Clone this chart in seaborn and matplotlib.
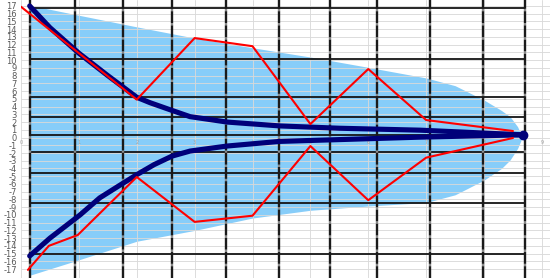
import numpy as np
import pandas as pd
import seaborn as sns
import matplotlib.pyplot as plt

# envelope (light blue area)
env_x = [0.15, 1, 2, 3, 4, 5, 6, 7, 7.5, 8, 8.3, 8.45, 8.58, 8.66]
env_top = [17.1, 15.8, 14.3, 12.85, 11.6, 10.4, 9.07, 7.7, 6.7, 4.85, 3.5, 2.7, 1.4, 0]
env_bottom = [-17.8, -15.8, -13.4, -12.0, -10.4, -9.4, -8.85, -8.4, -7.4, -5.5, -4.0, -2.9, -1.4, 0]

# navy curves
navy_up_x = [0.15, 0.5, 1, 1.5, 2, 2.23, 2.61, 2.92, 3.56, 4.47, 5.5, 6.9, 8.67]
navy_up_y = [17, 14.2, 10.9, 8.0, 5.2, 4.5, 3.5, 2.7, 2.0, 1.5, 1.2, 0.95, 0.35]
navy_lo_x = [0.15, 0.5, 1.02, 1.36, 1.7, 2, 2.3, 2.61, 2.92, 3.56, 4.47, 6.9, 8.67]
navy_lo_y = [-15.3, -13.0, -10.0, -7.8, -6.2, -4.8, -3.5, -2.4, -1.75, -1.1, -0.5, 0.05, 0.35]

# red zigzags
red_up_x = [0, 2, 3, 4, 5, 6, 7, 8.5]
red_up_y = [16.9, 4.9, 12.85, 11.8, 1.74, 8.85, 2.26, 0.84]
red_lo_x = [0.12, 0.48, 0.98, 2, 3, 4, 5, 6, 7, 8.5]
red_lo_y = [-17.1, -14.0, -12.6, -5.1, -10.9, -10.1, -1.1, -8.1, -2.6, -0.06]

# worksheet cell borders behind the chart
sheet_cols = [0.155, 0.93, 1.76, 2.61, 3.54, 4.46, 5.34, 6.15, 7.06, 7.98, 8.705]
sheet_rows = [16.7, 10.1, 5.2, 2.65, 0.32, -1.87, -4.59, -8.46, -15.0]

y_ticks = list(range(-17, 18))
x_ticks = list(range(0, 10))

sns.set_theme(style="white")
plt.rcParams['font.family'] = ['DejaVu Sans']

fig = plt.figure(figsize=(5.5, 2.78), dpi=100)
ax = fig.add_axes([21 / 550, 0, 529 / 550, 1])

ax.fill_between(env_x, env_bottom, env_top, color="#87cdf9", lw=0, zorder=1)

# cell borders
ax.hlines(sheet_rows, sheet_cols[0], sheet_cols[-1], color="#151515", lw=1.3, zorder=2.6)
ax.vlines(sheet_cols, -18.15, 17.77, color="#1a1a1a", lw=1.7,
          linestyles=(0, (5, 1)), gapcolor="#8a8a8a", zorder=2.6)

navy = pd.concat([
    pd.DataFrame({"x": navy_up_x, "y": navy_up_y, "side": "up"}),
    pd.DataFrame({"x": navy_lo_x, "y": navy_lo_y, "side": "lo"}),
])
red = pd.concat([
    pd.DataFrame({"x": red_up_x, "y": red_up_y, "side": "up"}),
    pd.DataFrame({"x": red_lo_x, "y": red_lo_y, "side": "lo"}),
])

sns.lineplot(data=navy, x="x", y="y", units="side", estimator=None, color="#00007a",
             lw=3.7, solid_capstyle="round", solid_joinstyle="round", ax=ax, zorder=3)
ax.scatter([navy_up_x[-1]], [navy_up_y[-1]], s=36, color="#00007a", zorder=3)
sns.lineplot(data=red, x="x", y="y", units="side", estimator=None, color="#ff0000",
             lw=1.5, ax=ax, zorder=4)

ax.set_xlim(0, 9.14)
ax.set_ylim(-18.15, 17.77)
ax.set_xticks(x_ticks)
ax.set_xticklabels([str(v) for v in x_ticks])
ax.set_yticks(y_ticks)
ax.set_yticklabels([str(v) for v in y_ticks])
ax.tick_params(axis="y", labelsize=6, labelcolor="#595959", length=0, pad=3)
ax.tick_params(axis="x", labelsize=3.5, labelcolor="#a0a0a0", length=0, pad=2)
ax.spines["bottom"].set_position(("data", 0))
for s in ax.spines.values():
    s.set_visible(False)

ax.set_axisbelow(False)
ax.grid(True, color="#d9d9d9", lw=0.7, alpha=0.9)
ax.set_xlabel("")
ax.set_ylabel("")

fig.savefig("out.png", dpi=100)
